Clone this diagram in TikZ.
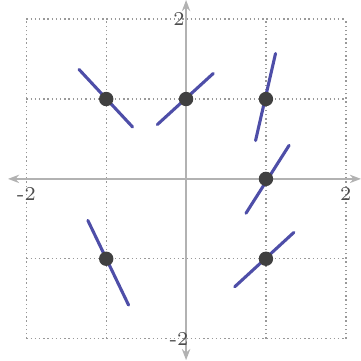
\documentclass[tikz,border=0pt]{standalone}
\usetikzlibrary{arrows.meta}
\definecolor{slopeblue}{RGB}{78,78,168}
\begin{document}
\begin{tikzpicture}[
  gridline/.style={densely dotted, black!40, line width=0.5pt},
  axisline/.style={black!30, line width=0.6pt, {Stealth[length=1.4mm]}-{Stealth[length=1.4mm]}},
  dot/.style={circle, fill=black!75, inner sep=0pt, minimum size=1.8mm},
  slope/.style={line width=1.1pt, slopeblue, line cap=round},
  tick/.style={font=\scriptsize, text=black!70, inner sep=1pt}
]
\useasboundingbox (-2.33,-2.27) rectangle (2.19,2.24);

% --- grid ---
\foreach \g in {-2,-1,1,2} {
  \draw[gridline] (\g,-2) -- (\g,2);
  \draw[gridline] (-2,\g) -- (2,\g);
}

% --- axes ---
\coordinate (xl) at (-2.23,0);
\coordinate (xr) at (2.19,0);
\coordinate (yb) at (0,-2.27);
\coordinate (yt) at (0,2.24);
\draw[axisline] (xl) -- (xr);
\draw[axisline] (yb) -- (yt);

\node[tick] (ytop) at (-0.09,2) {2};
\node[tick] (ybot) at (-0.09,-2) {-2};
\node[tick] (xlft) at (-2,-0.19) {-2};
\node[tick] (xrgt) at (2,-0.19) {2};

% --- slope marks: point / lower end / upper end ---
\foreach \px/\py/\ax/\ay/\bx/\by [count=\i] in {
  -1/1/-0.34/0.37/0.33/-0.35,
  0/1/-0.36/-0.32/0.34/0.32,
  1/1/-0.13/-0.52/0.12/0.57,
  1/0/-0.25/-0.43/0.29/0.42,
  -1/-1/-0.23/0.48/0.28/-0.58,
  1/-1/-0.39/-0.35/0.35/0.33} {
  \coordinate (p\i) at (\px,\py);
  \coordinate (lo\i) at ([shift={(\ax,\ay)}]p\i);
  \coordinate (hi\i) at ([shift={(\bx,\by)}]p\i);
  \draw[slope] (lo\i) -- (hi\i);
  \node[dot] (d\i) at (p\i) {};
}
\end{tikzpicture}
\end{document}
